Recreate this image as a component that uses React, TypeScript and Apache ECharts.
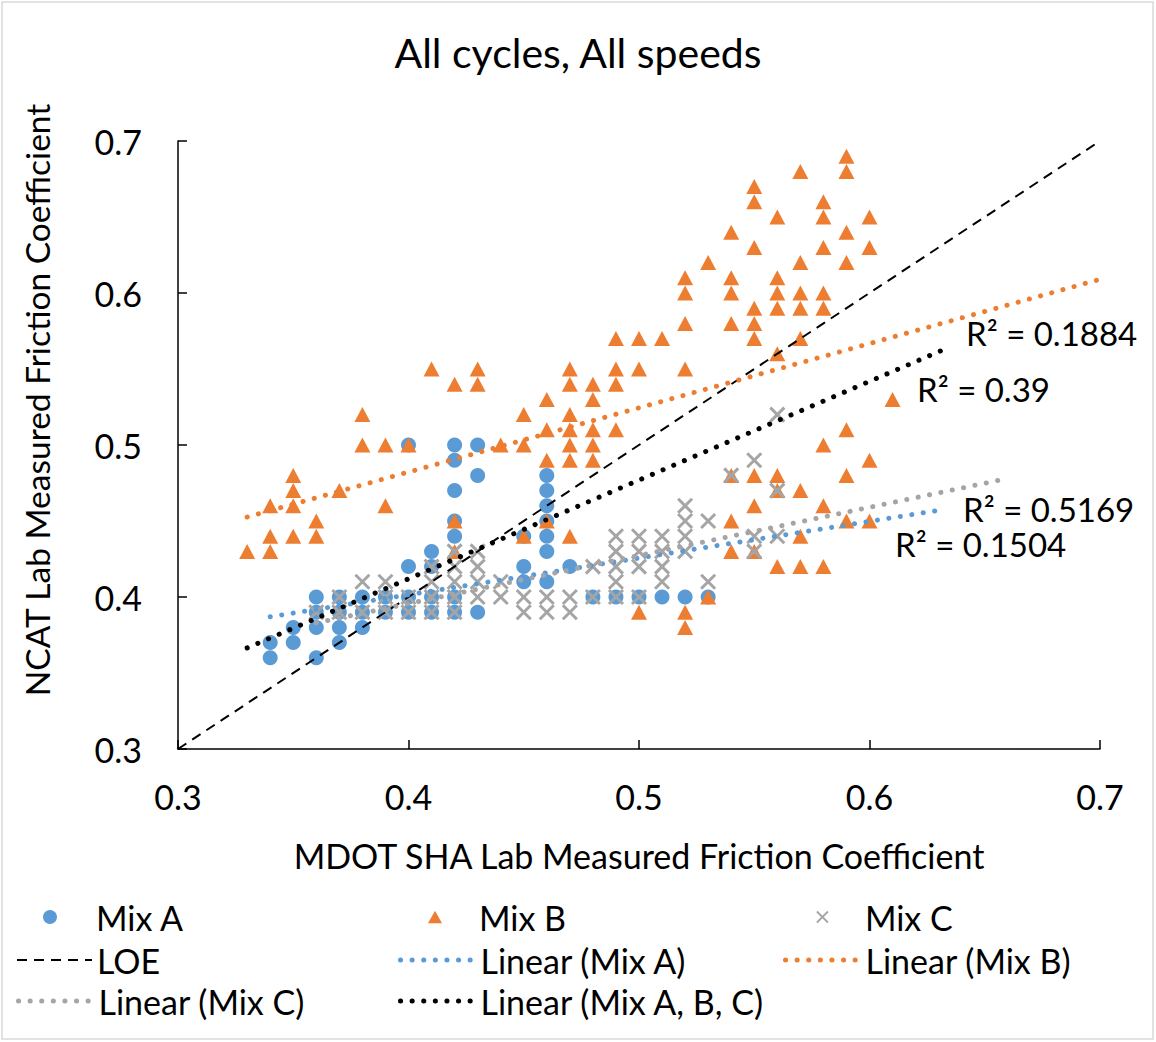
import React, { useEffect, useRef } from "react";
import * as echarts from "echarts";

// ---------- data ----------
const mixA: [number, number][] = [
  [0.34, 0.37], [0.34, 0.36],
  [0.35, 0.38], [0.35, 0.37],
  [0.36, 0.40], [0.36, 0.39], [0.36, 0.38], [0.36, 0.36],
  [0.37, 0.40], [0.37, 0.39], [0.37, 0.38], [0.37, 0.37],
  [0.38, 0.40], [0.38, 0.39], [0.38, 0.38],
  [0.39, 0.40], [0.39, 0.39],
  [0.40, 0.50], [0.40, 0.42], [0.40, 0.40], [0.40, 0.39],
  [0.41, 0.43], [0.41, 0.42], [0.41, 0.40], [0.41, 0.39],
  [0.42, 0.50], [0.42, 0.49], [0.42, 0.47], [0.42, 0.45], [0.42, 0.44], [0.42, 0.40], [0.42, 0.39],
  [0.43, 0.50], [0.43, 0.48], [0.43, 0.39],
  [0.45, 0.44], [0.45, 0.42], [0.45, 0.41],
  [0.46, 0.48], [0.46, 0.47], [0.46, 0.46], [0.46, 0.45], [0.46, 0.44], [0.46, 0.43], [0.46, 0.41],
  [0.47, 0.42],
  [0.48, 0.40], [0.49, 0.40], [0.50, 0.40], [0.51, 0.40], [0.52, 0.40], [0.53, 0.40],
];

const mixB: [number, number][] = [
  [0.33, 0.43],
  [0.34, 0.46], [0.34, 0.44], [0.34, 0.43],
  [0.35, 0.48], [0.35, 0.47], [0.35, 0.46], [0.35, 0.44],
  [0.36, 0.45], [0.36, 0.44],
  [0.37, 0.47],
  [0.38, 0.52], [0.38, 0.50],
  [0.39, 0.50], [0.39, 0.46],
  [0.40, 0.50],
  [0.41, 0.55],
  [0.42, 0.54], [0.42, 0.45], [0.42, 0.43],
  [0.43, 0.55], [0.43, 0.54],
  [0.44, 0.50],
  [0.45, 0.52], [0.45, 0.50], [0.45, 0.44],
  [0.46, 0.53], [0.46, 0.51], [0.46, 0.49], [0.46, 0.45],
  [0.47, 0.55], [0.47, 0.54], [0.47, 0.52], [0.47, 0.51], [0.47, 0.50], [0.47, 0.49], [0.47, 0.44],
  [0.48, 0.54], [0.48, 0.53], [0.48, 0.51], [0.48, 0.50], [0.48, 0.49],
  [0.49, 0.57], [0.49, 0.55], [0.49, 0.54], [0.49, 0.51],
  [0.50, 0.57], [0.50, 0.55], [0.50, 0.39],
  [0.51, 0.57],
  [0.52, 0.61], [0.52, 0.60], [0.52, 0.58], [0.52, 0.55], [0.52, 0.39], [0.52, 0.38],
  [0.53, 0.62], [0.53, 0.40],
  [0.54, 0.64], [0.54, 0.61], [0.54, 0.60], [0.54, 0.58], [0.54, 0.48], [0.54, 0.45], [0.54, 0.43],
  [0.55, 0.67], [0.55, 0.66], [0.55, 0.63], [0.55, 0.59], [0.55, 0.58], [0.55, 0.57], [0.55, 0.48], [0.55, 0.46], [0.55, 0.43],
  [0.56, 0.65], [0.56, 0.61], [0.56, 0.60], [0.56, 0.59], [0.56, 0.56], [0.56, 0.48], [0.56, 0.47], [0.56, 0.42],
  [0.57, 0.68], [0.57, 0.62], [0.57, 0.60], [0.57, 0.59], [0.57, 0.57], [0.57, 0.47], [0.57, 0.44], [0.57, 0.42],
  [0.58, 0.66], [0.58, 0.65], [0.58, 0.63], [0.58, 0.60], [0.58, 0.59], [0.58, 0.50], [0.58, 0.46], [0.58, 0.42],
  [0.59, 0.69], [0.59, 0.68], [0.59, 0.64], [0.59, 0.62], [0.59, 0.51], [0.59, 0.48], [0.59, 0.45],
  [0.60, 0.65], [0.60, 0.63], [0.60, 0.49], [0.60, 0.45],
  [0.61, 0.53],
];

const mixC: [number, number][] = [
  [0.36, 0.39],
  [0.37, 0.40], [0.37, 0.39],
  [0.38, 0.41], [0.38, 0.39],
  [0.39, 0.41], [0.39, 0.40], [0.39, 0.39],
  [0.40, 0.40], [0.40, 0.39],
  [0.41, 0.42], [0.41, 0.41], [0.41, 0.40], [0.41, 0.39],
  [0.42, 0.43], [0.42, 0.42], [0.42, 0.41], [0.42, 0.40], [0.42, 0.39],
  [0.43, 0.43], [0.43, 0.42], [0.43, 0.41], [0.43, 0.40],
  [0.44, 0.41], [0.44, 0.40],
  [0.45, 0.40], [0.45, 0.39],
  [0.46, 0.40], [0.46, 0.39],
  [0.47, 0.40], [0.47, 0.39],
  [0.48, 0.42], [0.48, 0.40],
  [0.49, 0.44], [0.49, 0.43], [0.49, 0.42], [0.49, 0.41], [0.49, 0.40],
  [0.50, 0.44], [0.50, 0.43], [0.50, 0.42], [0.50, 0.40],
  [0.51, 0.44], [0.51, 0.43], [0.51, 0.42], [0.51, 0.41],
  [0.52, 0.46], [0.52, 0.45], [0.52, 0.44], [0.52, 0.43],
  [0.53, 0.45], [0.53, 0.41],
  [0.54, 0.48],
  [0.55, 0.49], [0.55, 0.44], [0.55, 0.43],
  [0.56, 0.52], [0.56, 0.47], [0.56, 0.44],
];

// line of equality and trendline end points
const loe: [number, number][] = [[0.3, 0.3], [0.7, 0.7]];
const trendA: [number, number][] = [[0.34, 0.387], [0.63, 0.457]];
const trendB: [number, number][] = [[0.33, 0.4526], [0.70, 0.609]];
const trendC: [number, number][] = [[0.36, 0.383], [0.66, 0.478]];
const trendABC: [number, number][] = [[0.33, 0.3665], [0.631, 0.562]];

const r2Labels = ["R² = 0.1884", "R² = 0.39", "R² = 0.5169", "R² = 0.1504"];
const xTicks = [0.3, 0.4, 0.5, 0.6, 0.7];
const seriesNames = ["Mix A", "Mix B", "Mix C", "LOE", "Linear (Mix A)", "Linear (Mix B)", "Linear (Mix C)", "Linear (Mix A, B, C)"];

const BLUE = "#5B9BD5";
const ORANGE = "#ED7D31";
const GRAY = "#A5A5A5";
const FONT = "Lato";
const TRI = "path://M5,0 L10,9 L0,9 Z";
const CROSS = "path://M0,0 L10,10 M10,0 L0,10";
const DOTS = [0.1, 11.5];

export default function App() {
  const ref = useRef<HTMLDivElement>(null);
  useEffect(() => {
    document.body.style.margin = "0";
    const chart = echarts.init(ref.current!, null, { renderer: "svg" });

    const textStyle = { fontFamily: FONT, fontSize: 34, color: "#000" };
    const rowTop = [899, 943, 984];

    // marker legend entries: icon centred in Excel's symbol column, text padded to the label column
    const markerLegend = (name: string, left: number, row: number, pad: number, size: number, extra: any) => ({
      show: true,
      left,
      top: rowTop[row] + 1,
      padding: 0,
      itemWidth: size,
      itemHeight: size,
      symbolKeepAspect: true,
      selectedMode: false,
      textStyle: { ...textStyle, padding: [0, 0, 0, pad] },
      data: [{ name, ...extra }],
    });
    const lineLegend = (name: string, left: number, row: number, width: number) => ({
      show: true,
      left,
      top: rowTop[row],
      padding: 0,
      itemWidth: 75,
      itemHeight: 14,
      selectedMode: false,
      textStyle,
      data: [{ name, itemStyle: { opacity: 0 }, lineStyle: { width } }],
    });
    const legends = [
      markerLegend(seriesNames[0], 43, 0, 34, 14, { icon: "circle" }),
      markerLegend(seriesNames[1], 428, 0, 32, 14, { icon: TRI }),
      markerLegend(seriesNames[2], 816, 0, 32, 11, { icon: CROSS, itemStyle: { color: GRAY, borderColor: GRAY, borderWidth: 1.8 } }),
      lineLegend(seriesNames[3], 16, 1, 2),
      lineLegend(seriesNames[4], 398, 1, 5),
      lineLegend(seriesNames[5], 783, 1, 5),
      lineLegend(seriesNames[6], 16, 2, 5),
      lineLegend(seriesNames[7], 398, 2, 5),
    ];

    const trendSeries = (name: string, data: [number, number][], color: string) => ({
      name,
      type: "line",
      data,
      symbol: "none",
      z: 5,
      lineStyle: { color, width: 5, type: DOTS, cap: "round" },
      itemStyle: { color },
    });

    const r2 = (text: string, x: number, y: number) => ({
      type: "text", x, y,
      style: { text, fontFamily: FONT, fontSize: 33, fill: "#000", verticalAlign: "middle" },
    });

    chart.setOption({
      animation: false,
      backgroundColor: "#fff",
      title: {
        text: "All cycles, All speeds",
        left: "center",
        top: 27,
        textStyle: { fontFamily: FONT, fontSize: 41, fontWeight: "normal", color: "#000" },
      },
      legend: legends,
      grid: { left: 178, right: 56, top: 141, bottom: 293, containLabel: false },
      xAxis: {
        type: "value",
        min: xTicks[0],
        max: xTicks[xTicks.length - 1],
        interval: 0.1,
        name: "MDOT SHA Lab Measured Friction Coefficient",
        nameLocation: "middle",
        nameGap: 89,
        nameTextStyle: { fontFamily: FONT, fontSize: 34, color: "#000" },
        axisLine: { lineStyle: { color: "#000", width: 1.5 } },
        axisTick: { inside: true, length: 9, lineStyle: { color: "#000", width: 1.5 } },
        axisLabel: { fontFamily: FONT, fontSize: 34, color: "#000", margin: 30, formatter: (v: number) => v.toFixed(1) },
        splitLine: { show: false },
      },
      yAxis: {
        type: "value",
        min: 0.3,
        max: 0.7,
        interval: 0.1,
        name: "NCAT Lab Measured Friction Coefficient",
        nameLocation: "middle",
        nameGap: 124,
        nameRotate: 90,
        nameTextStyle: { fontFamily: FONT, fontSize: 33.5, color: "#000", padding: [0, 0, 0, 90] },
        axisLine: { show: true, lineStyle: { color: "#000", width: 1.5 } },
        axisTick: { show: true, inside: true, length: 9, lineStyle: { color: "#000", width: 1.5 } },
        axisLabel: { fontFamily: FONT, fontSize: 34, color: "#000", margin: 36, formatter: (v: number) => v.toFixed(1) },
        splitLine: { show: false },
      },
      series: [
        { name: "Mix A", type: "scatter", data: mixA, symbol: "circle", symbolSize: 15, itemStyle: { color: BLUE, opacity: 1 }, z: 2 },
        { name: "Mix B", type: "scatter", data: mixB, symbol: TRI, symbolSize: [16, 15], itemStyle: { color: ORANGE, opacity: 1 }, z: 3 },
        {
          name: "Mix C", type: "scatter", data: mixC, symbol: CROSS, symbolSize: 14,
          itemStyle: { color: GRAY, borderColor: GRAY, borderWidth: 3, opacity: 1 }, z: 4,
        },
        {
          name: "LOE", type: "line", data: loe, symbol: "none", z: 5,
          lineStyle: { color: "#000", width: 2, type: [10, 7] }, itemStyle: { color: "#000" },
        },
        trendSeries("Linear (Mix A)", trendA, BLUE),
        trendSeries("Linear (Mix B)", trendB, ORANGE),
        trendSeries("Linear (Mix C)", trendC, GRAY),
        trendSeries("Linear (Mix A, B, C)", trendABC, "#000"),
      ],
      graphic: [
        { type: "rect", shape: { x: 2, y: 2, width: 1151, height: 1037 }, style: { fill: "none", stroke: "#D9D9D9", lineWidth: 1.5 }, z: -1, silent: true },
        r2(r2Labels[0], 966, 333),
        r2(r2Labels[1], 917, 389),
        r2(r2Labels[2], 963, 509),
        r2(r2Labels[3], 895, 544),
      ],
    });
    return () => chart.dispose();
  }, []);
  return <div ref={ref} style={{ width: 1156, height: 1042 }} />;
}
